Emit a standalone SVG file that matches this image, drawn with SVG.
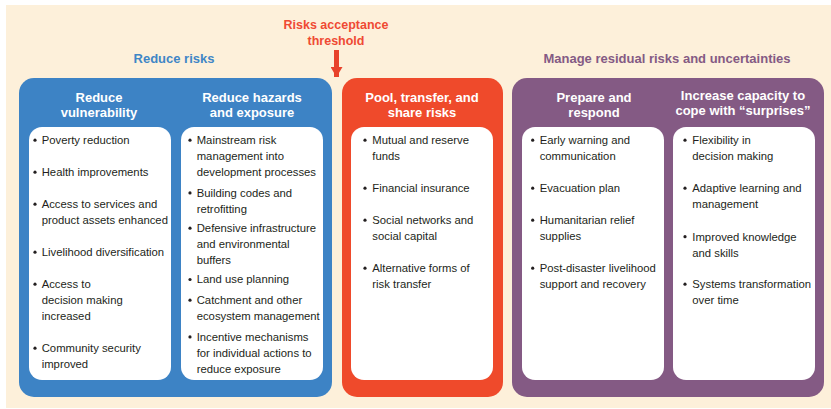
<svg xmlns="http://www.w3.org/2000/svg" width="831" height="409" viewBox="0 0 831 409">
<style>
.hdr{font-family:"Liberation Sans",Arial,sans-serif;font-weight:bold;font-size:13px;text-anchor:middle}
.ttl{font-family:"Liberation Sans",Arial,sans-serif;font-weight:bold;font-size:13px;fill:#ffffff;text-anchor:middle}
.txt{font-family:"Liberation Sans",Arial,sans-serif;font-size:11.3px;fill:#231f20}
.card{fill:#ffffff}
.dot{fill:#231f20}
</style>
<defs>
<marker id="ah" viewBox="0 0 10 12" refX="10" refY="6" markerWidth="10" markerHeight="12" markerUnits="userSpaceOnUse" orient="auto">
<path d="M0,0 L10,6 L0,12 Z" fill="#e8422b"/>
</marker>
</defs>
<rect x="0" y="0" width="831" height="409" fill="#ffffff"/>
<rect x="6" y="5" width="825" height="403" fill="#fdf0da"/>

<text class="hdr" x="174" y="63" fill="#3f86c6">Reduce risks</text>
<text class="hdr" x="667" y="63" fill="#845a84">Manage residual risks and uncertainties</text>
<g id="threshold-label">
<text class="hdr" x="336" y="29" fill="#ef4a33" style="font-size:12.5px">Risks acceptance</text>
<text class="hdr" x="336" y="45" fill="#ef4a33" style="font-size:12.5px">threshold</text>
</g>

<g id="connectors">
<line x1="336.5" y1="50" x2="336.5" y2="77" stroke="#e8422b" stroke-width="5" marker-end="url(#ah)"/>
</g>

<g id="reduce-risks">
<rect x="19" y="78" width="313" height="319" rx="15" fill="#3d83c5"/>
<g id="reduce-vulnerability">
<text class="ttl" x="99" y="101.5">Reduce</text>
<text class="ttl" x="99" y="117">vulnerability</text>
<rect class="card" x="29" y="127" width="142" height="253" rx="13"/>
<circle class="dot" cx="35" cy="140.2" r="1.6"/><text class="txt" x="41.7" y="144">Poverty reduction</text>
<circle class="dot" cx="35" cy="172.2" r="1.6"/><text class="txt" x="41.7" y="176">Health improvements</text>
<circle class="dot" cx="35" cy="204.2" r="1.6"/><text class="txt" x="41.7" y="208">Access to services and</text>
<text class="txt" x="41.7" y="224">product assets enhanced</text>
<circle class="dot" cx="35" cy="252.2" r="1.6"/><text class="txt" x="41.7" y="256">Livelihood diversification</text>
<circle class="dot" cx="35" cy="284.2" r="1.6"/><text class="txt" x="41.7" y="288">Access to</text>
<text class="txt" x="41.7" y="304">decision making</text>
<text class="txt" x="41.7" y="320">increased</text>
<circle class="dot" cx="35" cy="348.2" r="1.6"/><text class="txt" x="41.7" y="352">Community security</text>
<text class="txt" x="41.7" y="368">improved</text>
</g>
<g id="reduce-hazards">
<text class="ttl" x="252" y="101.5">Reduce hazards</text>
<text class="ttl" x="252" y="117">and exposure</text>
<rect class="card" x="181" y="127" width="142" height="253" rx="13"/>
<circle class="dot" cx="190" cy="140.2" r="1.6"/><text class="txt" x="196.7" y="144">Mainstream risk</text>
<text class="txt" x="196.7" y="160">management into</text>
<text class="txt" x="196.7" y="176">development processes</text>
<circle class="dot" cx="190" cy="192.9" r="1.6"/><text class="txt" x="196.7" y="196.7">Building codes and</text>
<text class="txt" x="196.7" y="212.7">retrofitting</text>
<circle class="dot" cx="190" cy="228.2" r="1.6"/><text class="txt" x="196.7" y="232">Defensive infrastructure</text>
<text class="txt" x="196.7" y="248">and environmental</text>
<text class="txt" x="196.7" y="264">buffers</text>
<circle class="dot" cx="190" cy="279.5" r="1.6"/><text class="txt" x="196.7" y="283.3">Land use planning</text>
<circle class="dot" cx="190" cy="300.2" r="1.6"/><text class="txt" x="196.7" y="304">Catchment and other</text>
<text class="txt" x="196.7" y="320">ecosystem management</text>
<circle class="dot" cx="190" cy="336.9" r="1.6"/><text class="txt" x="196.7" y="340.7">Incentive mechanisms</text>
<text class="txt" x="196.7" y="356.7">for individual actions to</text>
<text class="txt" x="196.7" y="372.7">reduce exposure</text>
</g>
</g>

<g id="pool-transfer-share">
<rect x="342" y="78" width="161" height="319" rx="15" fill="#ef4a2b"/>
<text class="ttl" x="422" y="101.5">Pool, transfer, and</text>
<text class="ttl" x="422" y="117">share risks</text>
<rect class="card" x="351" y="127" width="142" height="253" rx="13"/>
<circle class="dot" cx="365" cy="140.2" r="1.6"/><text class="txt" x="372.3" y="144">Mutual and reserve</text>
<text class="txt" x="372.3" y="160">funds</text>
<circle class="dot" cx="365" cy="188.2" r="1.6"/><text class="txt" x="372.3" y="192">Financial insurance</text>
<circle class="dot" cx="365" cy="220.2" r="1.6"/><text class="txt" x="372.3" y="224">Social networks and</text>
<text class="txt" x="372.3" y="240">social capital</text>
<circle class="dot" cx="365" cy="268.2" r="1.6"/><text class="txt" x="372.3" y="272">Alternative forms of</text>
<text class="txt" x="372.3" y="288">risk transfer</text>
</g>

<g id="manage-residual">
<rect x="512" y="78" width="312" height="319" rx="15" fill="#845a84"/>
<g id="prepare-respond">
<text class="ttl" x="594" y="101.5">Prepare and</text>
<text class="ttl" x="594" y="117">respond</text>
<rect class="card" x="522" y="127" width="142" height="253" rx="13"/>
<circle class="dot" cx="532.7" cy="140.2" r="1.6"/><text class="txt" x="539.7" y="144">Early warning and</text>
<text class="txt" x="539.7" y="160">communication</text>
<circle class="dot" cx="532.7" cy="188.2" r="1.6"/><text class="txt" x="539.7" y="192">Evacuation plan</text>
<circle class="dot" cx="532.7" cy="220.2" r="1.6"/><text class="txt" x="539.7" y="224">Humanitarian relief</text>
<text class="txt" x="539.7" y="240">supplies</text>
<circle class="dot" cx="532.7" cy="268.2" r="1.6"/><text class="txt" x="539.7" y="272">Post-disaster livelihood</text>
<text class="txt" x="539.7" y="288">support and recovery</text>
</g>
<g id="increase-capacity">
<text class="ttl" x="743" y="99.5">Increase capacity to</text>
<text class="ttl" x="743" y="115">cope with “surprises”</text>
<rect class="card" x="673" y="127" width="142" height="253" rx="13"/>
<circle class="dot" cx="685" cy="140.2" r="1.6"/><text class="txt" x="692.3" y="144">Flexibility in</text>
<text class="txt" x="692.3" y="160">decision making</text>
<circle class="dot" cx="685" cy="188.2" r="1.6"/><text class="txt" x="692.3" y="192">Adaptive learning and</text>
<text class="txt" x="692.3" y="208">management</text>
<circle class="dot" cx="685" cy="236.7" r="1.6"/><text class="txt" x="692.3" y="240.5">Improved knowledge</text>
<text class="txt" x="692.3" y="256.5">and skills</text>
<circle class="dot" cx="685" cy="284.2" r="1.6"/><text class="txt" x="692.3" y="288">Systems transformation</text>
<text class="txt" x="692.3" y="304">over time</text>
</g>
</g>
</svg>
